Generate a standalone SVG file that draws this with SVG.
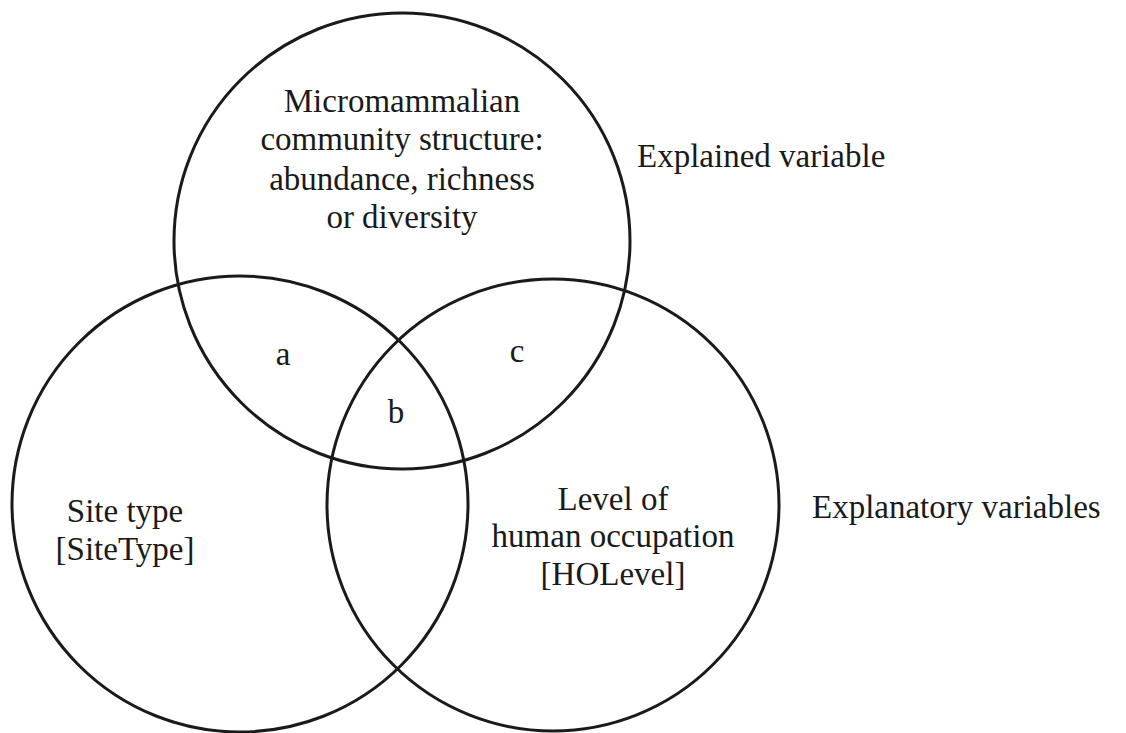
<svg xmlns="http://www.w3.org/2000/svg" width="1126" height="733" viewBox="0 0 1126 733">
  <style>
    .ring { fill: none; stroke: #1a1a1a; stroke-width: 3; }
    text { font-family: "Liberation Serif", "Times New Roman", serif; font-size: 33px; fill: #1a1a1a; }
    .mid { text-anchor: middle; }
  </style>
  <rect width="1126" height="733" fill="#ffffff"/>

  <!-- explained variable (top set) -->
  <g id="community">
    <circle class="ring" cx="402" cy="241" r="228"/>
    <text class="mid" x="402" y="112">Micromammalian</text>
    <text class="mid" x="402" y="150">community structure:</text>
    <text class="mid" x="402" y="190">abundance, richness</text>
    <text class="mid" x="402" y="228">or diversity</text>
  </g>

  <!-- explanatory variable: site type -->
  <g id="site-type">
    <circle class="ring" cx="240" cy="504" r="228"/>
    <text class="mid" x="125" y="522">Site type</text>
    <text class="mid" x="125" y="560">[SiteType]</text>
  </g>

  <!-- explanatory variable: human occupation -->
  <g id="human-occupation">
    <circle class="ring" cx="553" cy="505" r="226"/>
    <text class="mid" x="613" y="510">Level of</text>
    <text class="mid" x="613" y="547">human occupation</text>
    <text class="mid" x="613" y="585">[HOLevel]</text>
  </g>

  <!-- overlap fractions -->
  <g id="fractions">
    <text class="mid" x="283" y="365">a</text>
    <text class="mid" x="396" y="423">b</text>
    <text class="mid" x="517" y="362">c</text>
  </g>

  <!-- side labels -->
  <g id="labels">
    <text x="637" y="167">Explained variable</text>
    <text x="812" y="518">Explanatory variables</text>
  </g>
</svg>
